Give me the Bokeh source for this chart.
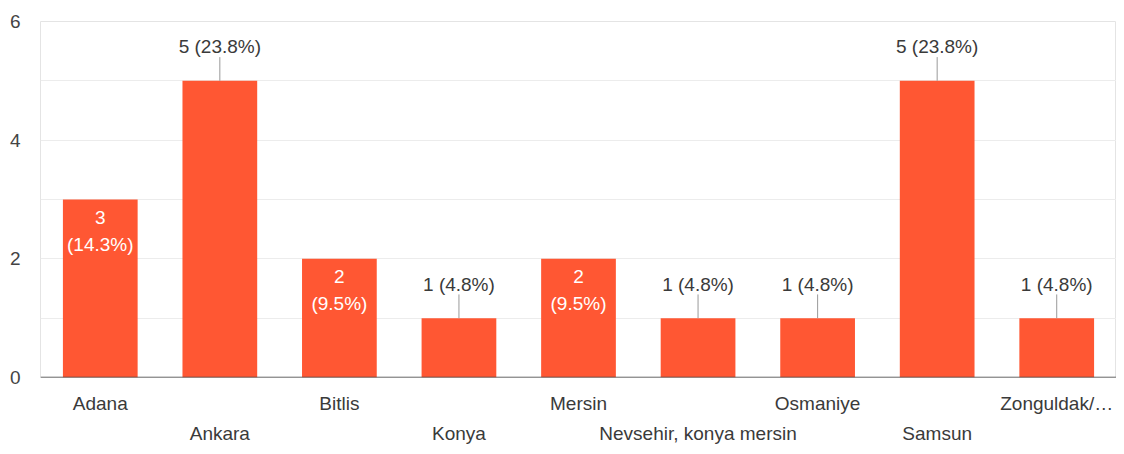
from bokeh.plotting import figure
from bokeh.models import (ColumnDataSource, FactorRange, Range1d, LabelSet, Span,
                          FixedTicker, CategoricalAxis, CustomJSTickFormatter)
from bokeh.core.properties import value
from bokeh.embed import file_html
from bokeh.resources import INLINE

# ---- data ----
categories = ["Adana", "Ankara", "Bitlis", "Konya", "Mersin",
              "Nevsehir, konya mersin", "Osmaniye", "Samsun", "Zonguldak/…"]
counts = [3, 5, 2, 1, 2, 1, 1, 5, 1]
percents = ["14.3%", "23.8%", "9.5%", "4.8%", "9.5%", "4.8%", "4.8%", "23.8%", "4.8%"]
y_ticks = [0, 2, 4, 6]

FONT = "Liberation Sans"
BAR = "#ff5733"
TXT = "#3a3a3a"

p = figure(width=1116, height=446,
           x_range=FactorRange(*categories, range_padding=0, factor_padding=0),
           y_range=Range1d(0, 6), output_backend="svg", toolbar_location=None,
           min_border_left=40, min_border_right=0, min_border_top=21, min_border_bottom=60)
p.outline_line_color = "#e4e4e4"
p.background_fill_color = "white"
p.border_fill_color = "white"

p.xgrid.visible = False
p.ygrid.ticker = FixedTicker(ticks=[1, 2, 3, 4, 5, 6])
p.ygrid.grid_line_color = "#ececec"

ya = p.yaxis[0]
ya.ticker = FixedTicker(ticks=y_ticks)
ya.axis_line_color = None
ya.major_tick_line_color = None
ya.minor_tick_line_color = None
ya.major_tick_out = 0
ya.major_label_standoff = 20
ya.major_label_text_font = FONT
ya.major_label_text_font_size = "19px"
ya.major_label_text_color = "#444444"


def style_x(ax, standoff, parity):
    ax.axis_line_color = None
    ax.major_tick_line_color = None
    ax.minor_tick_line_color = None
    ax.major_tick_out = 0
    ax.major_tick_in = 0
    ax.major_label_standoff = standoff
    ax.major_label_text_font = FONT
    ax.major_label_text_font_size = "19px"
    ax.major_label_text_color = TXT
    ax.formatter = CustomJSTickFormatter(
        args=dict(names=categories, parity=parity),
        code="const i = names.indexOf(tick); return (i % 2 == parity) ? tick : ' ';")


# staggered category labels: two stacked axes
xa = p.xaxis[0]
style_x(xa, 15, 0)

xb = CategoricalAxis()
style_x(xb, 6, 1)
p.add_layout(xb, "below")

src = ColumnDataSource(dict(cat=categories, val=counts))
p.vbar(x="cat", top="val", width=0.625, source=src, fill_color=BAR, line_color=None)
p.add_layout(Span(location=0, dimension="width", line_color="#444444", line_width=1.5))

# inside labels (values 2-3), outside labels otherwise
ins = [i for i, v in enumerate(counts) if 2 <= v <= 3]
outs = [i for i in range(len(counts)) if i not in ins]

in_src = ColumnDataSource(dict(cat=[categories[i] for i in ins], val=[counts[i] for i in ins],
                               n=[str(counts[i]) for i in ins],
                               pct=["(" + percents[i] + ")" for i in ins]))
p.add_layout(LabelSet(x="cat", y="val", text="n", source=in_src, y_offset=-18,
                      text_align="center", text_baseline="middle", text_color="white",
                      text_font=value(FONT), text_font_size="19px"))
p.add_layout(LabelSet(x="cat", y="val", text="pct", source=in_src, y_offset=-45,
                      text_align="center", text_baseline="middle", text_color="white",
                      text_font=value(FONT), text_font_size="19px"))

out_src = ColumnDataSource(dict(cat=[categories[i] for i in outs], val=[counts[i] for i in outs],
                                top=[counts[i] + 0.4 for i in outs],
                                lab=[f"{counts[i]} ({percents[i]})" for i in outs]))
p.segment(x0="cat", y0="val", x1="cat", y1="top", source=out_src, line_color="#999999", line_width=1)
p.add_layout(LabelSet(x="cat", y="val", text="lab", source=out_src, y_offset=34,
                      text_align="center", text_baseline="middle", text_color=TXT,
                      text_font=value(FONT), text_font_size="19px"))

open("out.html", "w").write(file_html(p, INLINE))
